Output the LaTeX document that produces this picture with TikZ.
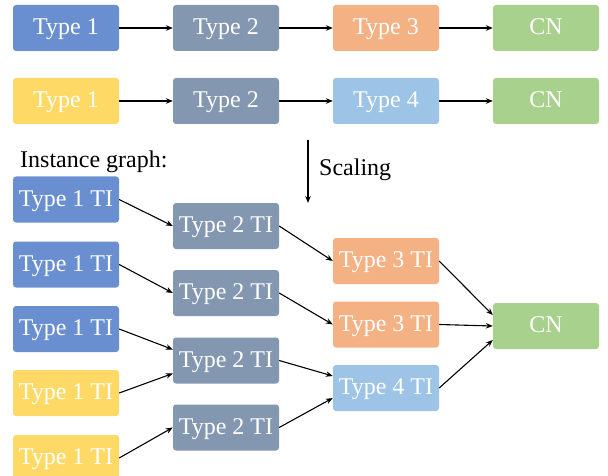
\documentclass[tikz,border=0pt]{standalone}
\usepackage{fontspec}
\setmainfont{Liberation Serif}
\usetikzlibrary{arrows.meta}
\definecolor{cblue}{HTML}{6A8FD0}
\definecolor{cgray}{HTML}{8497B0}
\definecolor{corange}{HTML}{F4B183}
\definecolor{cgreen}{HTML}{A9D18E}
\definecolor{cyellow}{HTML}{FFD966}
\definecolor{clblue}{HTML}{9DC3E6}
\tikzset{
  box/.style={rounded corners=3pt, minimum width=106pt, minimum height=46pt,
    inner sep=0pt, text=white, font=\fontsize{24}{28}\selectfont,
    text height=15pt, text depth=2pt},
  conn/.style={-{Stealth[length=7pt,width=5.5pt]}, line width=1.1pt, black},
  lbl/.style={text=black, font=\fontsize{24}{28}\selectfont, inner sep=0pt}
}
\begin{document}
\begin{tikzpicture}[x=1pt,y=-1pt]
\useasboundingbox (0,0) rectangle (608,476);
% top rows
\node[box, fill=cblue]   (a1) at (66,28) {Type 1};
\node[box, fill=cgray]   (a2) at (226,28) {Type 2};
\node[box, fill=corange] (a3) at (386,28) {Type 3};
\node[box, fill=cgreen]  (a4) at (546,28) {CN};
\node[box, fill=cyellow] (b1) at (66,101) {Type 1};
\node[box, fill=cgray]   (b2) at (226,101) {Type 2};
\node[box, fill=clblue]  (b3) at (386,101) {Type 4};
\node[box, fill=cgreen]  (b4) at (546,101) {CN};
\draw[conn] (a1) -- (a2);
\draw[conn] (a2) -- (a3);
\draw[conn] (a3) -- (a4);
\draw[conn] (b1) -- (b2);
\draw[conn] (b2) -- (b3);
\draw[conn] (b3) -- (b4);
% scaling
\coordinate (s1) at (308,140);
\coordinate (s2) at (308,203);
\draw[conn] (s1) -- (s2);
\node[lbl, anchor=west] (sc) at (319,170) {Scaling};
\node[lbl, anchor=west] (ig) at (20,162) {Instance graph:};
% instance graph
\node[box, fill=cblue]   (i11) at (66,199.5) {Type 1 TI};
\node[box, fill=cblue]   (i12) at (66,264.5) {Type 1 TI};
\node[box, fill=cblue]   (i13) at (66,329) {Type 1 TI};
\node[box, fill=cyellow] (i14) at (66,393) {Type 1 TI};
\node[box, fill=cyellow] (i15) at (66,458) {Type 1 TI};
\node[box, fill=cgray]   (i21) at (226,226) {Type 2 TI};
\node[box, fill=cgray]   (i22) at (226,293) {Type 2 TI};
\node[box, fill=cgray]   (i23) at (226,360.5) {Type 2 TI};
\node[box, fill=cgray]   (i24) at (226,427.5) {Type 2 TI};
\node[box, fill=corange] (i31) at (386,261) {Type 3 TI};
\node[box, fill=corange] (i32) at (386,324.5) {Type 3 TI};
\node[box, fill=clblue]  (i33) at (386,388) {Type 4 TI};
\node[box, fill=cgreen]  (cn)  at (546,326) {CN};
\draw[conn] (i11.east) -- (i21.west);
\draw[conn] (i12.east) -- (i22.west);
\draw[conn] (i13.east) -- ([yshift=11pt]i23.west);
\draw[conn] (i14.east) -- ([yshift=-13pt]i23.west);
\draw[conn] (i15.east) -- (i24.west);
\draw[conn] (i21.east) -- (i31.west);
\draw[conn] (i22.east) -- (i32.west);
\draw[conn] (i23.east) -- ([yshift=12pt]i33.west);
\draw[conn] (i24.east) -- ([yshift=-10pt]i33.west);
\draw[conn] (i31.east) -- ([yshift=11pt]cn.west);
\draw[conn] (i32.east) -- (cn.west);
\draw[conn] (i33.east) -- ([yshift=-14pt]cn.west);
\end{tikzpicture}
\end{document}
